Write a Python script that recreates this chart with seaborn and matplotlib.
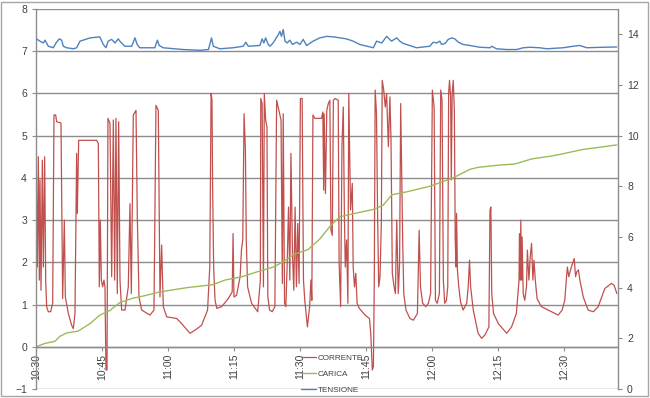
import matplotlib
matplotlib.use("Agg")
import matplotlib.pyplot as plt
import matplotlib.patches as mpatches
import seaborn as sns
import pandas as pd

# minutes after 10:30 and values
corrente_t = [0.0, 0.15, 0.3, 0.53, 0.76, 0.91, 1.14, 1.44, 1.67, 1.97, 2.2, 2.42, 2.8, 3.33, 3.79,
              4.09, 4.47, 4.7, 5.68, 6.06, 6.44, 6.67, 7.35, 8.1, 8.48, 8.86, 9.24, 9.39, 9.7, 13.79,
              14.17, 14.39, 14.62, 14.85, 15.15, 15.45, 15.68, 15.9, 16.14, 16.36, 16.82, 17.2, 17.58,
              17.88, 18.18, 18.48, 18.79, 19.09, 19.47, 20.23, 20.98, 21.36, 21.67, 22.12, 22.73, 23.03,
              23.41, 24.02, 25.91, 26.82, 27.27, 27.8, 28.18, 28.56, 28.94, 29.7, 31.97,
              33.1, 35.0, 36.1, 37.65, 39.0, 39.5, 39.8, 40.0, 40.15, 40.38, 40.7, 41.1, 42.2, 43.7,
              44.6, 44.8, 45.0, 45.6, 46.4, 46.7, 47.0, 47.3, 47.6, 47.8, 48.1, 49.0, 50.4, 51.0, 51.1,
              51.4, 51.7, 51.9, 52.2, 52.5, 52.7, 53.1, 53.7, 54.3, 54.7, 55.2, 55.7, 56.0, 56.2, 56.5,
              56.8, 57.1, 57.4, 57.7, 57.95, 58.3, 58.6, 58.9, 59.2, 59.5, 59.8, 60.1, 60.5, 60.8, 61.1,
              61.7, 62.2, 62.5, 62.7, 62.95, 63.4, 64.9, 65.2, 65.4,
              65.5, 65.8, 66.1, 66.45, 66.8, 67.05, 67.35, 67.6, 67.95, 68.7, 68.9, 69.25, 69.55, 69.85,
              70.1, 70.3, 70.6, 70.9, 71.1, 71.5, 71.9, 72.1, 72.4, 72.7, 73.0, 73.5, 74.8, 75.8, 76.1,
              76.45, 76.7, 76.9, 77.1, 77.4, 77.65, 77.9, 78.2, 78.5, 78.7, 79.0, 79.4, 79.7, 80.1,
              80.45, 80.7, 81.0, 81.4, 81.7, 82.0, 82.35, 82.65, 82.9, 83.1, 83.35, 83.6, 84.1, 85.0,
              85.8, 86.7, 87.1, 87.4, 87.9, 88.6, 89.2, 89.7, 90.1, 90.5, 90.8, 91.2, 91.7, 92.0, 92.3,
              92.6, 92.9, 93.3, 93.6, 93.8, 94.0, 94.25, 94.4, 94.6, 94.85, 95.1, 95.3, 95.5, 95.6,
              95.8, 96.1, 96.5, 97.1, 97.9,
              98.25, 98.55, 98.8, 99.4, 100.5, 101.3, 102.05, 102.95, 103.2, 103.4, 103.6, 104.0,
              105.1, 107.0, 108.1, 109.2, 109.8, 109.9, 110.1, 110.2, 110.4, 110.5, 110.75, 111.1,
              111.5, 111.7, 112.05, 112.35, 112.65, 112.95, 113.2, 113.5, 113.9, 114.9, 117.2, 118.7,
              119.6, 120.2, 120.6, 120.8, 121.1, 121.7, 122.35, 122.65, 122.95, 123.3, 123.7, 124.4,
              125.5, 126.7, 127.8, 128.6, 129.3, 130.8, 131.4, 132.05]
corrente_v = [5.15, 3.16, 1.89, 4.5, 1.58, 3.95, 1.34, 4.42, 1.89, 4.5, 1.58, 0.95, 0.83, 0.83, 1.03,
              5.49, 5.49, 5.33, 5.3, 1.14, 3.0, 1.18, 0.79, 0.51, 0.43, 0.79, 4.58, 3.16, 4.89, 4.89,
              4.81, 1.42, 3.0, 1.58, 1.42, 1.58, 1.42, -0.55, -0.55, 5.41, 5.29, 1.66, 5.37,
              1.58, 5.41, 1.26, 5.33, 1.58, 0.87, 0.87, 1.42, 3.39, 1.26, 5.49, 5.6, 3.08,
              1.18, 0.87, 0.75, 0.87, 5.72, 5.6, 1.18, 2.41, 0.95, 0.71, 0.67,
              0.55, 0.32, 0.39, 0.51, 0.87, 1.89, 6.0, 5.84, 3.79, 1.89, 1.1, 0.91, 0.95, 1.14,
              1.3, 2.68, 1.18, 1.22, 1.66, 2.29, 2.53, 5.52, 4.66, 2.53, 1.42, 1.03, 0.83, 1.58, 5.88,
              5.76, 1.42, 6.0, 5.37, 5.21, 1.18, 0.87, 0.83, 0.95, 5.84, 5.6, 5.37, 1.5, 5.52, 1.03,
              0.95, 1.97, 3.31, 1.58, 4.58, 2.21, 1.34, 3.31, 1.42, 2.92, 1.5, 5.88, 5.88, 1.58, 1.1,
              0.47, 0.95, 1.58, 1.1, 5.49, 5.41, 5.41, 5.56, 3.71,
              5.52, 3.63, 5.6, 5.76, 5.84, 2.76, 2.64, 5.84, 5.88, 5.84, 2.01, 0.95, 4.74, 5.68,
              3.16, 1.89, 2.53, 1.03, 6.0, 3.24, 3.87, 1.89, 1.42, 1.74, 1.03, 0.91, 0.75, 0.67, 0.32,
              -0.55, -0.47, 1.58, 6.08, 5.52, 3.16, 1.42, 1.66, 2.92, 6.31, 6.12, 5.68, 6.0, 4.74,
              5.92, 4.89, 1.74, 1.42, 1.26, 3.0, 1.26, 1.97, 5.76, 4.34, 2.53, 1.26, 0.87, 0.67,
              0.63, 0.79, 2.76, 1.42, 1.03, 0.95, 1.03, 1.26, 6.08, 5.68, 1.1, 1.03, 1.26, 6.08, 5.84,
              1.58, 1.03, 1.1, 1.42, 6.0, 6.31, 5.92, 3.95, 6.0, 6.31, 5.6, 2.53, 1.89, 3.16,
              1.82, 1.42, 1.07, 0.87, 1.03,
              1.42, 2.05, 1.42, 0.87, 0.32, 0.2, 0.28, 0.47, 3.24, 3.31, 1.26, 0.79,
              0.55, 0.32, 0.47, 0.79, 1.58, 2.68, 1.58, 3.0, 1.58, 2.6, 1.26, 1.1,
              1.42, 2.29, 1.58, 2.13, 2.45, 1.58, 2.05, 1.58, 1.14, 0.95, 0.83, 0.75,
              0.87, 1.1, 1.66, 1.89, 1.66, 1.89, 2.09, 1.66, 1.78, 1.82, 1.54, 1.18,
              0.87, 0.83, 0.95, 1.18, 1.38, 1.5, 1.46, 1.26]

carica_t = [0.0, 2.05, 4.3, 5.45, 7.05, 9.55, 12.3, 14.5, 16.8, 19.1, 22.0, 24.3, 28.2, 34.3, 40.2,
            42.95, 46.8, 50.45, 54.3, 55.9, 58.9, 61.8, 64.5, 66.8, 69.1, 72.05, 76.6, 78.9, 80.9,
            84.3, 89.5, 94.8, 98.6, 100.5, 105.0, 108.9, 112.7, 117.3, 120.2, 124.1, 127.7, 132.0]
carica_v = [0.0, 0.08, 0.13, 0.25, 0.33, 0.37, 0.55, 0.75, 0.86, 1.05, 1.15, 1.2, 1.3, 1.4, 1.47,
            1.58, 1.66, 1.78, 1.9, 2.0, 2.2, 2.3, 2.55, 2.85, 3.08, 3.15, 3.25, 3.35, 3.6,
            3.67, 3.8, 4.0, 4.2, 4.25, 4.3, 4.33, 4.45, 4.52, 4.58, 4.67, 4.72, 4.78]

tensione_t = [0.0, 0.9, 1.67, 2.05, 2.8, 3.94, 4.55, 5.3, 5.83, 6.2, 6.97, 8.5, 9.24, 10.0, 12.3, 14.5,
              15.3, 15.9, 16.4, 17.2, 17.95, 18.7, 19.25, 20.2, 21.75, 22.5, 23.0, 23.6, 27.0, 27.6,
              28.0, 28.9, 33.5, 37.3, 39.2, 39.9, 40.3, 41.8, 44.8, 47.1, 47.7, 48.25, 50.9, 51.4,
              51.8, 52.2, 52.8, 53.2, 53.9, 55.1, 55.45, 55.8, 56.2, 56.6, 57.1, 57.7, 58.3, 59.25,
              60.0, 60.75, 61.5, 63.0, 64.5, 66.1, 67.6, 69.1, 70.6, 72.1, 73.6, 76.7, 77.4, 78.6,
              79.7, 80.8, 82.0, 82.7, 83.5, 86.5, 89.5, 90.3, 91.1, 91.8, 92.2, 93.0, 93.7, 94.5,
              95.2, 96.0, 97.1, 98.6, 100.9, 103.2, 103.6, 104.7, 107.0, 109.25, 110.75, 112.3,
              114.5, 116.1, 119.85, 122.1, 123.6, 125.2, 128.9, 132.0]
tensione_v = [13.83, 13.73, 13.66, 13.77, 13.53, 13.47, 13.66, 13.82, 13.77, 13.53, 13.47, 13.43, 13.47,
              13.73, 13.86, 13.9, 13.6, 13.47, 13.73, 13.8, 13.66, 13.82, 13.69, 13.53, 13.53, 13.86,
              13.6, 13.47, 13.47, 13.77, 13.56, 13.47, 13.4, 13.37, 13.4, 13.86, 13.53, 13.43, 13.47,
              13.53, 13.69, 13.53, 13.56, 13.82, 13.66, 13.86, 13.6, 13.53, 13.66, 13.99, 14.12,
              13.92, 14.19, 13.73, 13.66, 13.77, 13.6, 13.69, 13.6, 13.8, 13.56, 13.73, 13.86, 13.92,
              13.9, 13.86, 13.82, 13.73, 13.6, 13.47, 13.73, 13.66, 13.92, 13.73, 13.86, 13.73, 13.64,
              13.47, 13.53, 13.69, 13.66, 13.73, 13.6, 13.64, 13.8, 13.86, 13.82, 13.69, 13.6, 13.56,
              13.49, 13.47, 13.53, 13.43, 13.4, 13.4, 13.47, 13.49, 13.47, 13.43, 13.47, 13.53, 13.56,
              13.47, 13.49, 13.5]

tick_minutes = [0, 15, 30, 45, 60, 75, 90, 105, 120]
tick_labels = ["10:30", "10:45", "11:00", "11:15", "11:30", "11:45", "12:00", "12:15", "12:30"]

df_c = pd.DataFrame({"t": corrente_t, "v": corrente_v})
df_q = pd.DataFrame({"t": carica_t, "v": carica_v})
df_u = pd.DataFrame({"t": tensione_t, "v": tensione_v})

sns.set_style("white")
plt.rcParams["font.family"] = ["Liberation Sans", "DejaVu Sans"]

grey = "#8C8C8C"
txt = "#404040"

fig = plt.figure(figsize=(6.5, 3.98), dpi=100)
ax = fig.add_axes([36 / 650, 1 - 389 / 398, (618 - 36) / 650, (389 - 9) / 398])
ax2 = ax.twinx()

sns.lineplot(data=df_c, x="t", y="v", ax=ax, color="#C0504D", lw=0.9, estimator=None, sort=False,
             label="CORRENTE", legend=False)
sns.lineplot(data=df_q, x="t", y="v", ax=ax, color="#9BBB59", lw=1.0, estimator=None, sort=False,
             label="CARICA", legend=False)
sns.lineplot(data=df_u, x="t", y="v", ax=ax2, color="#4F81BD", lw=1.0, estimator=None, sort=False,
             label="TENSIONE", legend=False)

ax.set_xlim(0, 132.3)
ax.set_ylim(-1, 8)
ax.set_yticks(range(-1, 9))
ax.grid(axis="y", color=grey, lw=1.0)
ax.grid(axis="x", visible=False)
ax.set_xticks(tick_minutes, tick_labels)
ax.tick_params(axis="x", labelrotation=90, labelsize=7.5, labelcolor=txt, length=3, color=grey,
               direction="out", bottom=True, labelbottom=True, pad=2)
ax.tick_params(axis="y", labelsize=7.5, labelcolor=txt, length=3, color=grey, direction="out", left=True)
ax.set_xlabel("")
ax.set_ylabel("")
ax.spines["bottom"].set_position(("data", 0))
for s in ["left", "bottom"]:
    ax.spines[s].set_color(grey)
    ax.spines[s].set_linewidth(1.0)
ax.spines["top"].set_visible(False)
ax.spines["right"].set_visible(False)

ax2.set_ylim(0, 15)
ax2.set_yticks(range(0, 15, 2))
ax2.set_ylabel("")
ax2.set_xlabel("")
ax2.tick_params(axis="x", bottom=False, top=False, labelbottom=False, labeltop=False)
ax2.tick_params(axis="y", labelsize=7.5, labelcolor=txt, length=3, color=grey, direction="out", right=True)
for s in ["left", "top", "bottom"]:
    ax2.spines[s].set_visible(False)
ax2.spines["right"].set_color(grey)
ax2.spines["right"].set_linewidth(1.0)

h1, l1 = ax.get_legend_handles_labels()
h2, l2 = ax2.get_legend_handles_labels()
fig.legend(h1 + h2, l1 + l2, loc="upper left", bbox_to_anchor=(297 / 650, 1 - 350 / 398),
           frameon=False, fontsize=5.9, handlelength=1.8, handletextpad=0.2, labelspacing=1.0,
           borderpad=0, labelcolor=txt)

fig.patches.append(mpatches.Rectangle((0.002, 0.004), 0.995, 0.99, transform=fig.transFigure,
                                      fill=False, edgecolor="#A6A6A6", lw=1.0))

fig.savefig("out.png", dpi=100)
plt.close(fig)
